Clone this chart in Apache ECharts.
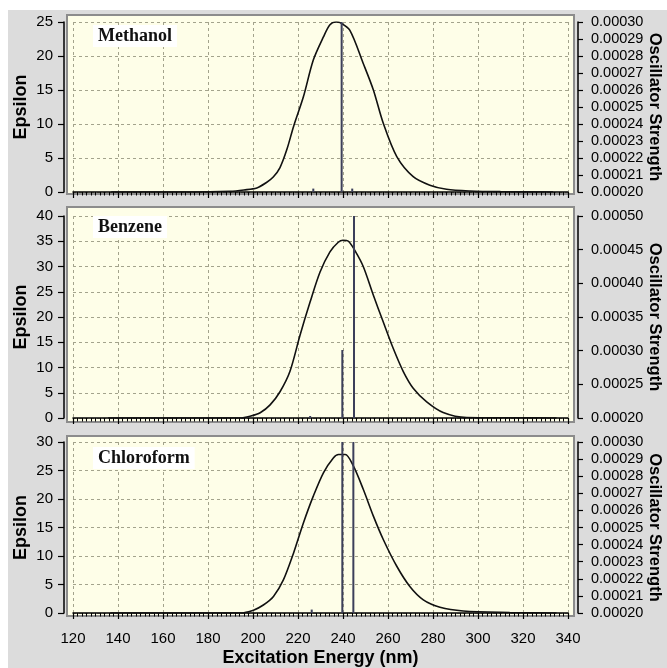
<!DOCTYPE html>
<html>
<head>
<meta charset="utf-8">
<script src="https://cdn.jsdelivr.net/npm/echarts@6/dist/echarts.min.js"></script>
<style>html,body{margin:0;padding:0;background:#fff;}#c{width:667px;height:668px;}</style>
</head>
<body>
<div id="c"></div>
<script>
// ---- data ----
const panelNames = ['Methanol', 'Benzene', 'Chloroform'];

const methanolX = [137, 150, 170, 190, 196, 201.7, 206, 209, 212, 215, 218, 222.4, 226.8, 231.3, 234.2, 237, 238.7, 243, 249, 253.5, 257.9, 263.9, 271.2, 278.6, 286, 296.4, 310, 333.4];
const methanolY = [0, 0, 0, 0.1, 0.3, 0.6, 1.4, 2.2, 3.6, 6.2, 9.6, 14, 19.4, 22.8, 24.6, 25.0, 24.9, 23.8, 18.9, 15, 10.1, 5.2, 2.25, 1.0, 0.4, 0.15, 0.05, 0];

const benzeneX = [135.6, 150, 170, 194.3, 199, 203.2, 207.6, 212, 216.4, 220.9, 225.4, 229.8, 234.2, 237.9, 240, 242.4, 245.5, 249, 253.5, 257.9, 262.3, 266.8, 271.2, 277.2, 284.5, 294.9, 315, 334.9];
const benzeneY = [0, 0, 0, 0, 0.4, 1.05, 2.6, 5.2, 9.2, 16.4, 23, 28.9, 32.9, 34.8, 35.2, 35.0, 33.0, 30.0, 24.3, 19, 13.8, 9.2, 5.9, 3.2, 1.1, 0.1, 0.05, 0];

const chloroformX = [136.6, 150, 170, 194.3, 200.2, 204.6, 209.1, 213.5, 218, 222.4, 226.8, 231.3, 235.7, 238, 241, 244.6, 249, 253.5, 257.9, 263.9, 269.8, 275.7, 283.1, 293.4, 314.1, 334.9];
const chloroformY = [0, 0, 0, 0, 0.5, 1.4, 2.9, 5.8, 10.5, 15.8, 20.5, 24.6, 27.2, 27.8, 27.8, 25.8, 21.7, 17, 12.9, 8.2, 4.6, 2.3, 1.0, 0.35, 0.1, 0];

// oscillator strength sticks
const methanolStickX = [226.8, 239.4, 244.1];
const methanolStickF = [0.000202, 0.0003, 0.000202];
const benzeneStickX = [225.4, 239.7, 244.9];
const benzeneStickF = [0.000203, 0.000301, 0.0005];
const chloroformStickX = [226.1, 239.7, 244.6];
const chloroformStickF = [0.000202, 0.0003, 0.0003];

// axis ranges / ticks
const xMin = 120, xMax = 340, xStep = 20;
const epsMax = [25, 40, 30];
const epsStep = 5;
const oscMin = [0.0002, 0.0002, 0.0002];
const oscMax = [0.0003, 0.0005, 0.0003];
const oscStep = [0.00001, 0.00005, 0.00001];

const xTitle = 'Excitation Energy (nm)';
const yTitle = 'Epsilon';
const y2Title = 'Oscillator Strength';

// ---- layout ----
const grids = [
  {left: 73, top: 22, width: 495, height: 170},
  {left: 73, top: 216, width: 495, height: 202},
  {left: 73, top: 442, width: 495, height: 171}
];
const frames = [
  {y: 15, h: 179},
  {y: 207, h: 215},
  {y: 436, h: 180}
];
const xOffsets = [7, 9, 7];
const titleTops = [25, 216, 447];

const curves = [[methanolX, methanolY], [benzeneX, benzeneY], [chloroformX, chloroformY]];
const sticks = [[methanolStickX, methanolStickF], [benzeneStickX, benzeneStickF], [chloroformStickX, chloroformStickF]];

const FONT = 'Liberation Sans, Arial, sans-serif';
const gridColor = '#a3a38c';

const option = {
  animation: false,
  backgroundColor: '#ffffff',
  graphic: [
    {type: 'rect', z: -20, shape: {x: 8, y: 10, width: 659, height: 658}, style: {fill: '#dcdcdc'}, silent: true}
  ].concat(frames.map(f => ({
    type: 'rect', z: -10, shape: {x: 67, y: f.y, width: 507, height: f.h},
    style: {fill: '#fefee8', stroke: '#8c8c8c', lineWidth: 2}, silent: true
  }))),
  title: panelNames.map((n, i) => ({
    text: n, left: 93, top: titleTops[i], padding: [2, 5],
    backgroundColor: '#ffffff',
    textStyle: {fontFamily: 'Liberation Serif, Times New Roman, serif', fontWeight: 'bold', fontSize: 18, color: '#111'}
  })),
  grid: grids.map(g => Object.assign({containLabel: false, outerBoundsMode: 'none'}, g)),
  xAxis: grids.map((g, i) => ({
    type: 'value', gridIndex: i, min: xMin, max: xMax, interval: xStep,
    position: 'bottom', offset: xOffsets[i],
    axisLine: {show: true, lineStyle: {color: '#000', width: 1.5}},
    axisTick: {show: true, length: 6, lineStyle: {color: '#000', width: 1.2}},
    minorTick: {show: true, splitNumber: 10, length: 3.5, lineStyle: {color: '#000', width: 1}},
    axisLabel: {show: i === 2, fontFamily: FONT, fontSize: 15, color: '#000', margin: 11},
    splitLine: {show: true, lineStyle: {color: gridColor, type: [3, 3], width: 1}},
    name: i === 2 ? xTitle : '', nameLocation: 'middle', nameGap: 29, nameMoveOverlap: false,
    nameTextStyle: {fontFamily: FONT, fontWeight: 'bold', fontSize: 18, color: '#000'}
  })),
  yAxis: [].concat(
    grids.map((g, i) => ({
      type: 'value', gridIndex: i, min: 0, max: epsMax[i], interval: epsStep,
      position: 'left', offset: 9,
      axisLine: {show: true, lineStyle: {color: '#000', width: 1.5}},
      axisTick: {show: true, length: 6, lineStyle: {color: '#000', width: 1.2}},
      axisLabel: {fontFamily: FONT, fontSize: 15, color: '#000', margin: 11},
      splitLine: {show: true, lineStyle: {color: gridColor, type: [3, 3], width: 1}},
      name: yTitle, nameLocation: 'middle', nameGap: 34, nameRotate: 90, nameMoveOverlap: false,
      nameTextStyle: {fontFamily: FONT, fontWeight: 'bold', fontSize: 18, color: '#000'}
    })),
    grids.map((g, i) => ({
      type: 'value', gridIndex: i, min: oscMin[i], max: oscMax[i], interval: oscStep[i],
      position: 'right', offset: 10,
      axisLine: {show: true, lineStyle: {color: '#000', width: 1.5}},
      axisTick: {show: true, length: 5, lineStyle: {color: '#000', width: 1.2}},
      axisLabel: {fontFamily: FONT, fontSize: 14.5, color: '#000', margin: 13,
        formatter: v => v.toFixed(5)},
      splitLine: {show: false},
      name: y2Title, nameLocation: 'middle', nameGap: 68, nameRotate: -90, nameMoveOverlap: false,
      nameTextStyle: {fontFamily: FONT, fontWeight: 'bold', fontSize: 16.5, color: '#000'}
    }))
  ),
  series: [].concat(
    curves.map((c, i) => ({
      type: 'line', xAxisIndex: i, yAxisIndex: i, smooth: 0.3, showSymbol: false,
      lineStyle: {color: '#111', width: 1.6}, z: 3,
      data: c[0].map((x, k) => [x, c[1][k]])
    })),
    sticks.map((s, i) => ({
      type: 'bar', xAxisIndex: i, yAxisIndex: 3 + i, barWidth: 2,
      itemStyle: {color: '#3c3f5a'}, z: 4,
      data: s[0].map((x, k) => [x, s[1][k]])
    }))
  )
};

const chart = echarts.init(document.getElementById('c'), null, {renderer: 'canvas'});
chart.setOption(option);
</script>
</body>
</html>
